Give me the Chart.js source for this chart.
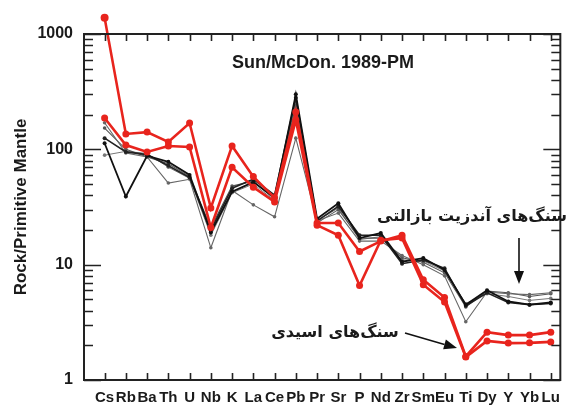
<!DOCTYPE html>
<html>
<head>
<meta charset="utf-8">
<script src="https://cdn.jsdelivr.net/npm/chart.js@4"></script>
<style>
  html, body { margin: 0; padding: 0; background: #fff; }
  #wrap { position: relative; width: 569px; height: 405px; }
</style>
</head>
<body>
<div id="wrap"><canvas id="spider"></canvas></div>
<script>
// Trace elements, primitive-mantle normalised (Sun & McDonough 1989)
var elements = ['Cs','Rb','Ba','Th','U','Nb','K','La','Ce','Pb','Pr','Sr','P','Nd','Zr','Sm','Eu','Ti','Dy','Y','Yb','Lu'];
var decadeTicks = [1, 10, 100, 1000];

// acidic rocks
var acid1 = [1380, 136, 141, 116, 169, 31, 107, 58, 38, 211, 23, 23, 13, 16, 18, 7.4, 5.2, 1.6, 2.6, 2.45, 2.45, 2.6];
var acid2 = [187, 109, 95, 107, 105, 21, 70, 47, 35, 180, 22, 18, 6.6, 16.3, 17, 6.7, 4.75, 1.58, 2.18, 2.09, 2.1, 2.14];

// basaltic andesites
var basalt1 = [113, 39, 88, 78, 60, 19, 43, 52, 38, 300, 25, 34, 17, 18.8, 10.6, 11.4, 9.0, 4.5, 6.0, 4.8, 4.5, 4.7];
var basalt2 = [125, 95, 90, 72, 57, 20, 46, 55, 40, 280, 24, 32, 18, 18, 10.2, 11, 9.3, 4.4, 5.7, 4.7, 4.5, 4.6];
var basalt3 = [170, 93, 86, 51, 55, 14, 44, 33, 26, 125, 24, 28, 16, 16, 12, 10, 8, 3.2, 5.8, 5.6, 5.5, 5.7];
var basalt4 = [153, 100, 86, 75, 58, 21, 48, 53, 37, 240, 23, 30, 17, 17, 11.5, 10.5, 8.5, 4.3, 5.9, 5.7, 5.3, 5.6];
var basalt5 = [89, 96, 92, 70, 56, 18, 42, 50, 36, 260, 24, 31, 16.5, 17.5, 11, 10.8, 8.8, 4.6, 5.6, 5.3, 4.9, 5.1];

function pts(arr) {
  return arr.map(function(v, i) { return { x: i, y: v }; });
}

function series(arr, color, width, radius) {
  return {
    data: pts(arr),
    borderColor: color,
    backgroundColor: color,
    borderWidth: width,
    pointRadius: radius,
    pointBorderWidth: 0,
    pointHoverRadius: radius,
    tension: 0,
    clip: false
  };
}

var RED = '#e8241d';

// frame, inward ticks, title and the two labelled arrows
var decorations = {
  id: 'decorations',
  afterDatasetsDraw: function(chart) {
    var ctx = chart.ctx;
    var a = chart.chartArea;
    var xs = chart.scales.x, ys = chart.scales.y;
    ctx.save();

    // Chart.js skips point markers outside the chart area (Cs above 1000)
    chart.data.datasets.forEach(function(ds, i) {
      chart.getDatasetMeta(i).data.forEach(function(p) {
        if (p.y < a.top) {
          ctx.fillStyle = ds.backgroundColor;
          ctx.beginPath();
          ctx.arc(p.x, p.y, ds.pointRadius + 0.5, 0, Math.PI * 2);
          ctx.fill();
        }
      });
    });

    ctx.strokeStyle = '#222';
    ctx.lineWidth = 2;
    ctx.strokeRect(a.left, a.top, a.right - a.left, a.bottom - a.top);

    ctx.lineWidth = 1.6;
    ctx.beginPath();
    elements.forEach(function(e, i) {
      var px = Math.round(xs.getPixelForValue(i)) + 0.5;
      ctx.moveTo(px, a.bottom); ctx.lineTo(px, a.bottom - 7);
      ctx.moveTo(px, a.top); ctx.lineTo(px, a.top + 7);
    });
    for (var d = 1; d <= 1000; d *= 10) {
      for (var m = 1; m <= 9; m++) {
        var v = d * m;
        if (v > 1000) break;
        var py = Math.round(ys.getPixelForValue(v)) + 0.5;
        var len = m === 1 ? 17 : 9;
        ctx.moveTo(a.left, py); ctx.lineTo(a.left + len, py);
        ctx.moveTo(a.right, py); ctx.lineTo(a.right - len, py);
      }
    }
    ctx.stroke();

    ctx.fillStyle = '#1a1a1a';
    ctx.font = 'bold 18px "Liberation Sans", Arial, sans-serif';
    ctx.textAlign = 'center';
    ctx.textBaseline = 'middle';
    ctx.fillText('Sun/McDon. 1989-PM', 323, 63);

    ctx.font = 'bold 16px "DejaVu Sans", sans-serif';
    ctx.direction = 'rtl';
    ctx.fillText('سنگ\u200cهای آندزیت بازالتی', 472, 217);
    ctx.fillText('سنگ\u200cهای اسیدی', 335, 333);
    ctx.direction = 'ltr';

    arrow(ctx, 519, 238, 519, 284);
    arrow(ctx, 405, 333, 457, 348);
    ctx.restore();
  }
};

function arrow(ctx, x1, y1, x2, y2) {
  var ang = Math.atan2(y2 - y1, x2 - x1);
  var hl = 13, hw = 5;
  var bx = x2 - hl * Math.cos(ang), by = y2 - hl * Math.sin(ang);
  ctx.strokeStyle = '#111';
  ctx.lineWidth = 1.6;
  ctx.beginPath();
  ctx.moveTo(x1, y1); ctx.lineTo(bx, by);
  ctx.stroke();
  ctx.fillStyle = '#111';
  ctx.beginPath();
  ctx.moveTo(x2, y2);
  ctx.lineTo(bx + hw * Math.sin(ang), by - hw * Math.cos(ang));
  ctx.lineTo(bx - hw * Math.sin(ang), by + hw * Math.cos(ang));
  ctx.closePath();
  ctx.fill();
}

new Chart(document.getElementById('spider').getContext('2d'), {
  type: 'line',
  data: {
    datasets: [
      series(acid1, RED, 2.6, 3.5),
      series(acid2, RED, 2.6, 3.5),
      series(basalt1, '#111', 1.8, 2),
      series(basalt2, '#222', 1.6, 2),
      series(basalt3, '#666', 1.1, 1.8),
      series(basalt4, '#555', 1.1, 1.8),
      series(basalt5, '#777', 1.0, 1.8)
    ]
  },
  options: {
    responsive: true,
    maintainAspectRatio: false,
    animation: false,
    events: [],
    layout: { padding: { left: 0, top: 34, right: 2, bottom: 0 } },
    plugins: { legend: { display: false }, tooltip: { enabled: false } },
    scales: {
      x: {
        type: 'linear',
        min: -0.97,
        max: 21.45,
        grid: { display: false, drawTicks: false },
        border: { display: false },
        afterBuildTicks: function(scale) {
          scale.ticks = elements.map(function(e, i) { return { value: i }; });
        },
        afterFit: function(scale) { scale.height = 25; },
        ticks: {
          autoSkip: false,
          maxRotation: 0,
          padding: 9,
          color: '#1a1a1a',
          font: { family: '"Liberation Sans", Arial, sans-serif', size: 15, weight: 'bold' },
          callback: function(v) { return elements[v]; }
        }
      },
      y: {
        type: 'logarithmic',
        min: 1,
        max: 1000,
        grid: { display: false, drawTicks: false },
        border: { display: false },
        afterBuildTicks: function(scale) {
          scale.ticks = decadeTicks.map(function(v) { return { value: v }; });
        },
        afterFit: function(scale) { scale.width = 84; },
        ticks: {
          padding: 11,
          color: '#1a1a1a',
          font: { family: '"Liberation Sans", Arial, sans-serif', size: 16, weight: 'bold' },
          callback: function(v) { return String(v); }
        },
        title: {
          display: true,
          text: 'Rock/Primitive Mantle',
          color: '#1a1a1a',
          padding: { top: 11, bottom: 0 },
          font: { family: '"Liberation Sans", Arial, sans-serif', size: 17, weight: 'bold' }
        }
      }
    }
  },
  plugins: [decorations]
});
</script>
</body>
</html>
